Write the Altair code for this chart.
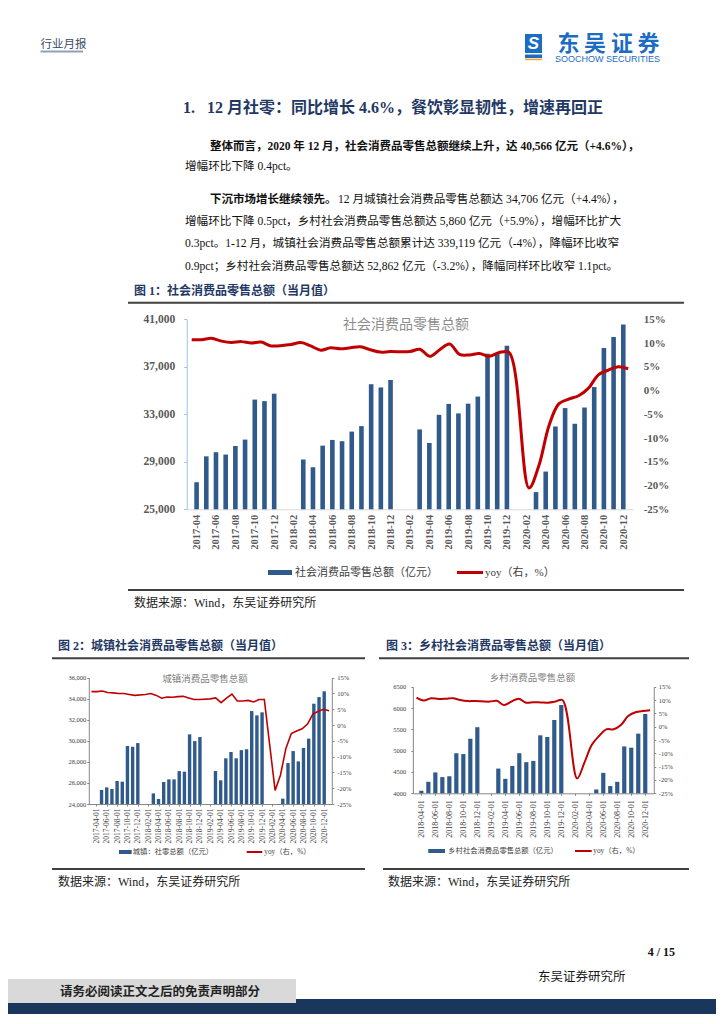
import json
import altair as alt
import pandas as pd

OX, OY = 8, 8          # page margin: canvas origin in screenshot pixels
W, H = 708, 1006       # canvas size

FONT = "'Liberation Serif', 'Noto Sans CJK SC'"
CJK = "'Noto Sans CJK SC'"
SERIF = "Liberation Serif"

BAR = "#305A8C"
RED = "#C00000"
NAVY = "#1F3864"

# ---------------- data ----------------
months1 = ["2017-04", "2017-05", "2017-06", "2017-07", "2017-08", "2017-09", "2017-10", "2017-11", "2017-12",
           "2018-01", "2018-02", "2018-03", "2018-04", "2018-05", "2018-06", "2018-07", "2018-08", "2018-09",
           "2018-10", "2018-11", "2018-12",
           "2019-01", "2019-02", "2019-03", "2019-04", "2019-05", "2019-06", "2019-07", "2019-08", "2019-09",
           "2019-10", "2019-11", "2019-12",
           "2020-01", "2020-02", "2020-03", "2020-04", "2020-05", "2020-06", "2020-07", "2020-08", "2020-09",
           "2020-10", "2020-11", "2020-12"]

total_retail = [27278, 29459, 29808, 29610, 30330, 30870, 34240, 34108, 34734,
                None, None, 29194, 28542, 30359, 30842, 30734, 31542, 32005, 35534, 35260, 35893,
                None, None, 31726, 30586, 32956, 33878, 33073, 33896, 34495, 38104, 38094, 38777,
                None, None, 26450, 28178, 31973, 33526, 32203, 33571, 35295, 38576, 39514, 40566]
total_yoy = [10.7, 10.7, 11.0, 10.4, 10.1, 10.3, 10.0, 10.2, 9.4,
             None, 9.7, 10.1, 9.4, 8.5, 9.0, 8.8, 9.0, 9.2, 8.6, 8.1, 8.2,
             None, 8.2, 8.7, 7.2, 8.6, 9.8, 7.6, 7.5, 7.8, 7.2, 8.0, 8.0,
             None, -20.5, -15.8, -7.5, -2.8, -1.8, -1.1, 0.5, 3.3, 4.3, 5.0, 4.6]

labels2 = [m + "-01" for m in months1]
urban_retail = [23400, 25330, 25580, 25420, 26190, 26120, 29510, 29440, 29790,
                None, None, 25010, 24480, 26090, 26340, 26340, 27130, 27070, 30620, 29980, 30360,
                None, None, 27130, 26250, 28340, 28940, 28340, 29120, 29200, 32830, 32420, 32710,
                None, None, 22600, 24510, 27890, 29030, 28050, 29320, 30210, 33530, 34160, 34706]
urban_yoy = [10.6, 10.6, 10.8, 10.3, 10.2, 10.0, 10.0, 9.7, 9.4,
             None, 9.7, 10.0, 9.4, 8.5, 8.9, 8.8, 9.0, 9.1, 8.6, 8.1, 8.1,
             None, 8.3, 8.6, 7.1, 8.5, 9.8, 7.6, 7.6, 7.8, 7.3, 8.1, 8.1,
             None, -20.7, -15.8, -7.4, -2.7, -1.9, -1.2, 0.3, 3.5, 4.4, 5.0, 4.5]

months3 = ["2018-04-01", "2018-05-01", "2018-06-01", "2018-07-01", "2018-08-01", "2018-09-01",
           "2018-10-01", "2018-11-01", "2018-12-01",
           "2019-01-01", "2019-02-01", "2019-03-01", "2019-04-01", "2019-05-01", "2019-06-01",
           "2019-07-01", "2019-08-01", "2019-09-01", "2019-10-01", "2019-11-01", "2019-12-01",
           "2020-01-01", "2020-02-01", "2020-03-01", "2020-04-01", "2020-05-01", "2020-06-01",
           "2020-07-01", "2020-08-01", "2020-09-01", "2020-10-01", "2020-11-01", "2020-12-01"]
rural_retail = [4060, 4270, 4490, 4380, 4400, 4940, 4920, 5280, 5550,
                None, None, 4580, 4340, 4640, 4940, 4730, 4760, 5360, 5320, 5720, 6070,
                None, None, 3850, 3670, 4090, 4480, 4170, 4270, 5100, 5070, 5400, 5860]
rural_yoy = [10.9, 9.8, 10.7, 10.4, 10.5, 10.7, 10.0, 9.6, 9.6,
             None, 9.4, 9.7, 8.1, 9.4, 10.5, 9.0, 9.2, 9.1, 9.0, 9.4, 10.0,
             None, -19.4, -13.5, -6.9, -3.5, -1.0, -1.0, 0.6, 4.0, 5.4, 5.9, 6.2]

pct_ticks = [-25, -20, -15, -10, -5, 0, 5, 10, 15]


# ---------------- helpers ----------------
def txt(items, size, color="#1a1a1a", weight="normal", font=FONT, align="left", baseline="middle", italic=False):
    df = pd.DataFrame([{"x": x - OX, "y": y - OY, "t": t} for (t, x, y) in items])
    kw = dict(fontSize=size, color=color, fontWeight=weight, font=font, align=align, baseline=baseline)
    if italic:
        kw["fontStyle"] = "italic"
    return alt.Chart(df).mark_text(**kw).encode(
        x=alt.X("x:Q", scale=None, axis=None),
        y=alt.Y("y:Q", scale=None, axis=None),
        text="t:N")


def rects(rows):
    df = pd.DataFrame([{"x1": a - OX, "x2": b - OX, "y1": c - OY, "y2": d - OY, "c": col}
                       for (a, b, c, d, col) in rows])
    return alt.Chart(df).mark_rect().encode(
        x=alt.X("x1:Q", scale=None, axis=None), x2="x2:Q",
        y=alt.Y("y1:Q", scale=None, axis=None), y2="y2:Q",
        color=alt.Color("c:N", scale=None))


def rules(rows, width, color):
    df = pd.DataFrame([{"x1": a - OX, "x2": b - OX, "y": c - OY} for (a, b, c) in rows])
    return alt.Chart(df).mark_rule(strokeWidth=width, color=color).encode(
        x=alt.X("x1:Q", scale=None, axis=None), x2="x2:Q",
        y=alt.Y("y:Q", scale=None, axis=None))


def combo(labels, vals, yoy, xr, yr, ydom, bar_size, line_w, interp, xax, lax, rax):
    n = len(labels)
    df = pd.DataFrame({"idx": list(range(n)), "lab": labels, "v": vals, "yoy": yoy})
    xl, xrgt = xr[0] - OX, xr[1] - OX
    yb, yt = yr[0] - OY, yr[1] - OY
    xs = alt.Scale(domain=[-0.5, n - 0.5], range=[xl, xrgt], nice=False, zero=False)
    ys = alt.Scale(domain=ydom, range=[yb, yt], nice=False, zero=False, clamp=True)
    ys2 = alt.Scale(domain=[-25, 15], range=[yb, yt], nice=False, zero=False)
    lab_expr = json.dumps(labels) + "[datum.value]"
    x_axis = alt.Axis(orient="bottom", offset=yb - H, values=list(range(0, n, 2)), labelExpr=lab_expr,
                      labelAngle=270, title=None, grid=False, labelOverlap=False, labelFlush=False,
                      labelBound=False, labelFont=SERIF, **xax)
    l_axis = alt.Axis(orient="left", offset=-xl, title=None, grid=False, labelOverlap=False,
                      labelFont=SERIF, **lax)
    r_axis = alt.Axis(orient="right", offset=xrgt - W, title=None, grid=False, labelOverlap=False,
                      labelFont=SERIF, values=pct_ticks, labelExpr="datum.value + '%'", **rax)
    bars = alt.Chart(df).transform_filter("isValid(datum.v)").mark_bar(size=bar_size, color=BAR).encode(
        x=alt.X("idx:Q", scale=xs, axis=x_axis),
        y=alt.Y("v:Q", scale=ys, axis=l_axis),
        y2=alt.datum(ydom[0]))
    line = alt.Chart(df).transform_filter("isValid(datum.yoy)").mark_line(
        color=RED, strokeWidth=line_w, interpolate=interp).encode(
        x=alt.X("idx:Q", scale=xs, axis=None),
        y=alt.Y("yoy:Q", scale=ys2, axis=r_axis))
    return [bars, line]


layers = []

# ---------------- page decoration ----------------
layers.append(rects([
    (0, 724, 999, 1024, "#1B365D"),
    (0, 296, 979, 1003, "#D9D9D9"),
    (525, 542, 34, 53, "#1C6DC2"),
    (525, 542, 54.5, 58, "#1C6DC2"),
    (525, 542, 58.6, 60.2, "#F2A33A"),
    (268, 292, 570, 575, BAR),
    (119, 131.7, 850, 854, BAR),
    (428.3, 445, 849, 853, BAR),
]))
layers.append(rules([(40.5, 83, 51.5)], 2, "#8EA0BA"))
layers.append(rules([(128, 684, 302.7), (128, 684, 590), (52, 365, 658.3), (379, 689, 658.3),
                     (52, 365, 869), (383, 689, 869)], 2, "#404040"))
layers.append(rules([(457, 483, 572.5)], 3, RED))
layers.append(rules([(246.7, 262.3, 852), (575, 591.7, 851)], 2, RED))

# header
layers.append(txt([("行业月报", 40.5, 44.5)], 11.5, color="#3B4A63", font=CJK))
layers.append(txt([("S", 533.5, 44)], 17, color="white", weight="bold", font="Liberation Sans",
                  align="center", italic=True))
layers.append(txt([("东", 568.4, 43.8), ("吴", 595.1, 43.8), ("证", 621.9, 43.8), ("券", 648.6, 43.8)],
                  22, color="#1C6DC2", weight="bold", font=CJK, align="center"))
layers.append(txt([("SOOCHOW SECURITIES", 555, 58.8)], 9, color="#1C6DC2", font="Liberation Sans"))

# section title and paragraphs
layers.append(txt([("1.\u00a0\u00a0 12 月社零：同比增长 4.6%，餐饮彰显韧性，增速再回正", 183, 107.5)], 16,
                  color=NAVY, weight="bold"))
layers.append(txt([("整体而言，2020 年 12 月，社会消费品零售总额继续上升，达 40,566 亿元（+4.6%），", 210, 146.7),
                   ("下沉市场增长继续领先。", 210, 200)], 11.5, color="#111111", weight="bold"))
layers.append(txt([("增幅环比下降 0.4pct。", 185, 166.7),
                   ("12 月城镇社会消费品零售总额达 34,706 亿元（+4.4%），", 338, 200),
                   ("增幅环比下降 0.5pct，乡村社会消费品零售总额达 5,860 亿元（+5.9%），增幅环比扩大", 185, 221.7),
                   ("0.3pct。1-12 月，城镇社会消费品零售总额累计达 339,119 亿元（-4%），降幅环比收窄", 185, 244.3),
                   ("0.9pct；乡村社会消费品零售总额达 52,862 亿元（-3.2%），降幅同样环比收窄 1.1pct。", 185, 266.7)],
                  11.6, color="#111111"))

# figure titles
layers.append(txt([("图 1：社会消费品零售总额（当月值）", 134, 291),
                   ("图 2：城镇社会消费品零售总额（当月值）", 58, 646),
                   ("图 3：乡村社会消费品零售总额（当月值）", 386, 646)], 12, color=NAVY, weight="bold"))

# chart inner titles
layers.append(txt([("社会消费品零售总额", 406, 325)], 14, color="#8C8C8C", font=CJK, align="center"))
layers.append(txt([("城镇消费品零售总额", 205, 679), ("乡村消费品零售总额", 532.5, 678)], 9.5,
                  color="#7F7F7F", font=CJK, align="center"))

# legends
layers.append(txt([("社会消费品零售总额（亿元）", 295, 572.5), ("yoy（右，%）", 485, 572.5)], 11,
                  color="#404040"))
layers.append(txt([("城镇：社零总额（亿元）", 132.8, 852), ("yoy（右，%）", 264.3, 852),
                   ("乡村社会消费品零售总额（亿元）", 448.3, 851), ("yoy（右，%）", 593.3, 851)], 7.3,
                  color="#404040"))

# sources
layers.append(txt([("数据来源：Wind，东吴证券研究所", 134, 603), ("数据来源：Wind，东吴证券研究所", 58, 882),
                   ("数据来源：Wind，东吴证券研究所", 388, 882)], 12, color="#222222"))

# footer
layers.append(txt([("4 / 15", 675, 952)], 12, color="#111111", weight="bold", align="right"))
layers.append(txt([("东吴证券研究所", 538, 977)], 12.5, color="#1a1a1a"))
layers.append(txt([("请务必阅读正文之后的免责声明部分", 60, 991.5)], 12.5, color="#222222", weight="bold"))

# ---------------- charts ----------------
COMMA = "format(datum.value, ',')"

layers += combo(
    months1, total_retail, total_yoy,
    xr=(186.74, 633.14), yr=(509.3, 319.3), ydom=[25000, 41000], bar_size=4.6, line_w=3,
    interp="catmull-rom",
    xax=dict(labelFontSize=10.5, labelFontWeight="bold", labelColor="#595959", domainColor="#D9D9D9",
             ticks=False, labelPadding=5),
    lax=dict(values=[25000, 29000, 33000, 37000, 41000], labelExpr=COMMA, labelFontSize=11.5,
             labelFontWeight="bold", labelColor="#595959", domainColor="#9DC3E6", tickColor="#9DC3E6",
             tickSize=3, labelPadding=9),
    rax=dict(labelFontSize=11, labelFontWeight="bold", labelColor="#595959", domain=False, ticks=False,
             labelPadding=10))

layers += combo(
    labels2, urban_retail, urban_yoy,
    xr=(88.8, 331.8), yr=(804, 677.7), ydom=[24000, 36000], bar_size=3.4, line_w=1.6,
    interp="linear",
    xax=dict(labelFontSize=7.5, labelColor="#404040", domainColor="#868686", tickColor="#868686",
             tickSize=2, labelPadding=2),
    lax=dict(values=[24000, 26000, 28000, 30000, 32000, 34000, 36000], labelExpr=COMMA, labelFontSize=6.5,
             labelColor="#404040", domainColor="#868686", tickColor="#868686", tickSize=2, labelPadding=1),
    rax=dict(labelFontSize=6.5, labelColor="#404040", domainColor="#868686", tickColor="#868686",
             tickSize=2, labelPadding=3))

layers += combo(
    months3, rural_retail, rural_yoy,
    xr=(412.85, 653.75), yr=(793.3, 686.7), ydom=[4000, 6500], bar_size=4.2, line_w=2,
    interp="catmull-rom",
    xax=dict(labelFontSize=8, labelColor="#404040", domainColor="#868686", tickColor="#868686",
             tickSize=2, labelPadding=4.5),
    lax=dict(values=[4000, 4500, 5000, 5500, 6000, 6500], labelExpr="format(datum.value, 'd')",
             labelFontSize=6.5, labelColor="#404040", domainColor="#868686", tickColor="#868686",
             tickSize=2, labelPadding=5),
    rax=dict(labelFontSize=6.5, labelColor="#404040", domainColor="#868686", tickColor="#868686",
             tickSize=2, labelPadding=2.5))

chart = alt.layer(*layers).resolve_scale(x="independent", y="independent").properties(
    width=W, height=H, padding=0, autosize=alt.AutoSizeParams(type="none"),
    background="white").configure_view(stroke=None)

chart.save("out.html", embed_options={"renderer": "svg", "actions": False})
